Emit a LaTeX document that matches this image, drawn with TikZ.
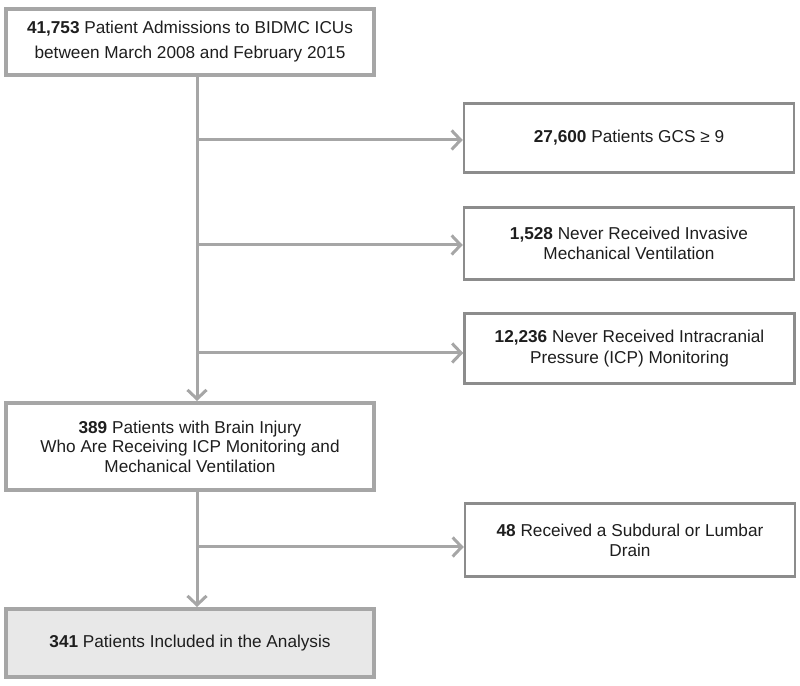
\documentclass[tikz,border=0pt]{standalone}
\usepackage{fontspec}
\setmainfont{Liberation Sans}
\usetikzlibrary{arrows.meta}
\definecolor{lineg}{HTML}{A6A6A6}
\definecolor{boxg}{HTML}{8C8C8C}
\definecolor{txt}{HTML}{1E1E1E}
\definecolor{fillg}{HTML}{E8E8E8}
\begin{document}
\begin{tikzpicture}[x=1pt,y=1pt,
  mainbox/.style={draw=lineg,line width=4pt,fill=white,text=txt,align=center,
    minimum width=368pt,inner sep=0pt,font=\fontsize{17.2}{20}\selectfont},
  sidebox/.style={draw=boxg,line width=2.5pt,fill=white,text=txt,align=center,
    minimum width=330pt,inner sep=0pt,font=\fontsize{17.2}{20.5}\selectfont},
  arr/.style={draw=lineg,line width=3pt,-{Straight Barb[length=9pt,width=19pt,line width=3pt]}}]
\useasboundingbox (0,0) rectangle (800,685);
\node[mainbox,minimum height=66pt,font=\fontsize{17.2}{25}\selectfont] (b1) at (190,643)
  {\textbf{41,753} Patient Admissions to BIDMC ICUs\\between March 2008 and February 2015};
\node[sidebox,minimum height=69pt] (b2) at (629,547) {\textbf{27,600} Patients GCS ≥ 9};
\node[sidebox,minimum height=72pt] (b3) at (629,441.5)
  {\textbf{1,528} Never Received Invasive\\Mechanical Ventilation};
\node[sidebox,minimum height=70pt] (b4) at (629.5,336.5)
  {\textbf{12,236} Never Received Intracranial\\Pressure (ICP) Monitoring};
\node[mainbox,minimum height=87pt,font=\fontsize{17.2}{19.5}\selectfont] (b5) at (190,238.5)
  {\textbf{389} Patients with Brain Injury\\Who Are Receiving ICP Monitoring and\\Mechanical Ventilation};
\node[sidebox,minimum height=73pt,font=\fontsize{17.2}{20}\selectfont] (b6) at (630,145)
  {\textbf{48} Received a Subdural or Lumbar\\Drain};
\node[mainbox,fill=fillg,minimum height=68pt] (b7) at (190,42)
  {\textbf{341} Patients Included in the Analysis};
\coordinate (sp) at (197,0);
\draw[arr] (b1.south -| sp) -- (b5.north -| sp);
\draw[arr] (b5.south -| sp) -- (b7.north -| sp);
\draw[arr] ([yshift=-2pt]b2.west -| sp) -- ([yshift=-2pt]b2.west);
\draw[arr] ([yshift=-1.5pt]b3.west -| sp) -- ([yshift=-1.5pt]b3.west);
\draw[arr] ([yshift=-4.5pt]b4.west -| sp) -- ([yshift=-4.5pt]b4.west);
\draw[arr] ([yshift=-7pt]b6.west -| sp) -- ([yshift=-7pt]b6.west);
\end{tikzpicture}
\end{document}
